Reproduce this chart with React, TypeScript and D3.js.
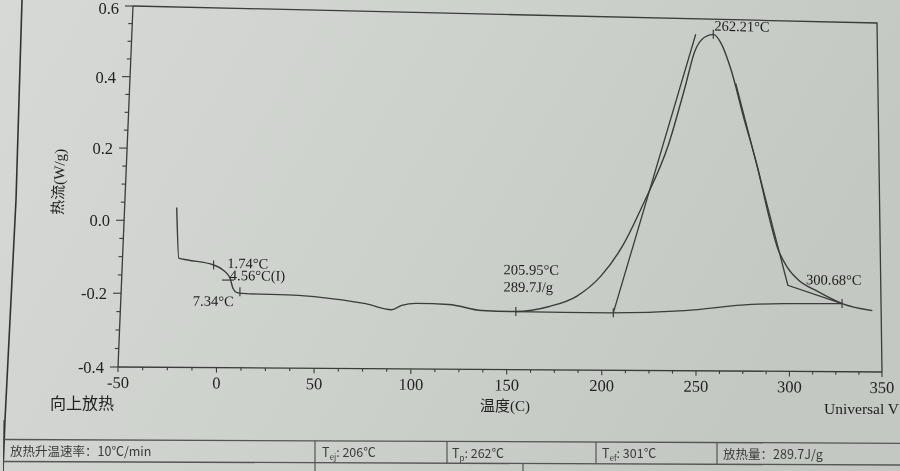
import React from "react";
import * as d3 from "d3";

const W = 900;
const H = 471;

// ---- axes ----
const xTickValues = [-50, 0, 50, 100, 150, 200, 250, 300, 350];
const xTickLabels = ["-50", "0", "50", "100", "150", "200", "250", "300", "350"];
const yTickValues = [0.6, 0.4, 0.2, 0.0, -0.2, -0.4];
const yTickLabels = ["0.6", "0.4", "0.2", "0.0", "-0.2", "-0.4"];

// ---- DSC curve (temperature °C, heat flow W/g) ----
const tempC = [
  -23.3, -21.3, -16.6, -3.3, 1.8, 5.4, 7.1, 9.2, 12.2, 40.9, 57.9, 75.8, 89.4, 94.6,
  101.9, 119.2, 136.5, 154.4, 172.0, 186.4, 199.2, 211.0, 222.0, 235.0, 244.0, 249.5,
  254.8, 259.6, 263.8, 269.1, 276.1, 283.5, 288.8, 294.1, 299.5, 304.8, 315.4, 328.8, 345.2,
];
const heatFlow = [
  0.037, -0.102, -0.107, -0.12, -0.134, -0.156, -0.184, -0.195, -0.197, -0.201, -0.209,
  -0.222, -0.238, -0.226, -0.22, -0.222, -0.238, -0.24, -0.225, -0.196, -0.139, -0.051,
  0.069, 0.232, 0.398, 0.506, 0.547, 0.556, 0.531, 0.457, 0.316, 0.174, 0.051, -0.054,
  -0.11, -0.142, -0.175, -0.209, -0.228,
];

// integration baseline
const baseT = [154.4, 180.0, 205.0, 244.0, 279.8, 297.6, 328.8];
const baseHF = [-0.24, -0.241, -0.241, -0.233, -0.214, -0.211, -0.209];

// onset tangent and endset construction
const onsetT = [205.95, 250.0];
const onsetHF = [-0.241, 0.555];
const endsetT = [271.8, 299.5, 328.8];
const endsetHF = [0.415, -0.159, -0.209];

// analysis markers
const vMarkT = [-3.3, 10.7, 154.4, 205.95, 259.6, 328.8];
const vMarkHF = [-0.12, -0.193, -0.24, -0.241, 0.556, -0.209];
const hMarkT = [4.4];
const hMarkHF = [-0.161];

// annotation texts with their data anchors
const annoText = ["262.21°C", "1.74°C", "4.56°C(I)", "7.34°C", "205.95°C", "289.7J/g", "300.68°C"];
const annoT = [260.1, 3.8, 5.3, -13.2, 147.7, 147.8, 309.4];
const annoHF = [0.567, -0.128, -0.161, -0.232, -0.137, -0.185, -0.156];

// table
const tableLabels = ["放热升温速率：10℃/min", "T", "T", "T", "放热量：289.7J/g"];
const tableSubs = ["", "ej", "p", "ef", ""];
const tableValues = ["", ": 206℃", ": 262℃", ": 301℃", ""];

function makeHomography(
  p0: number[], p1: number[], p2: number[], p3: number[]
) {
  const [x0, y0] = p0, [x1, y1] = p1, [x2, y2] = p2, [x3, y3] = p3;
  const dx1 = x1 - x2, dx2 = x3 - x2, dx3 = x0 - x1 + x2 - x3;
  const dy1 = y1 - y2, dy2 = y3 - y2, dy3 = y0 - y1 + y2 - y3;
  const den = dx1 * dy2 - dx2 * dy1;
  const g = (dx3 * dy2 - dx2 * dy3) / den;
  const h = (dx1 * dy3 - dx3 * dy1) / den;
  const a = x1 - x0 + g * x1, b = x3 - x0 + h * x3, c = x0;
  const d = y1 - y0 + g * y1, e = y3 - y0 + h * y3, f = y0;
  return (u: number, v: number): [number, number] => {
    const w = g * u + h * v + 1;
    return [(a * u + b * v + c) / w, (d * u + e * v + f) / w];
  };
}

export default function App() {
  const xs = d3.scaleLinear().domain([-50, 350]).range([0, 1]);
  const ys = d3.scaleLinear().domain([0.6, -0.4]).range([0, 1]);
  const proj = makeHomography([133, 6], [877, 23], [882, 372], [118, 367]);
  const P = (t: number, hf: number) => proj(xs(t), ys(hf));
  const angle = (t: number, hf: number) => {
    const p = P(t, hf), q = P(t + 5, hf);
    return (Math.atan2(q[1] - p[1], q[0] - p[0]) * 180) / Math.PI;
  };

  const lineGen = d3.line<[number, number]>().curve(d3.curveMonotoneX);
  const straight = d3.line<[number, number]>();

  const curvePts = tempC.map((t, i) => P(t, heatFlow[i]));
  const basePts = baseT.map((t, i) => P(t, baseHF[i]));
  const basePath = d3.line<[number, number]>().curve(d3.curveMonotoneX)(basePts);
  const onsetPts = onsetT.map((t, i) => P(t, onsetHF[i]));
  const endsetPts = endsetT.map((t, i) => P(t, endsetHF[i]));

  const frame = [P(-50, 0.6), P(350, 0.6), P(350, -0.4)];
  const xAxis = [P(-50, -0.4), P(350, -0.4)];
  const yAxis = [P(-50, -0.4), P(-50, 0.6)];

  const xMinor = d3.range(-50, 350.01, 12.5);
  const yMinor = d3.range(-0.4, 0.6001, 0.05);

  const stroke = "#3a3c3a";
  const serif = "'Liberation Serif', 'Times New Roman', serif";
  const cjk = "'Noto Sans CJK SC', 'Noto Sans', sans-serif";

  const tableCellX = [10, 322, 452, 602, 723];

  return (
    <svg width={W} height={H} style={{ position: "absolute", left: 0, top: 0, display: "block" }}>
      <defs>
        <linearGradient id="paper" x1="0" y1="0" x2="1" y2="0.3">
          <stop offset="0" stopColor="#d6d9d5" />
          <stop offset="0.55" stopColor="#cdd1cc" />
          <stop offset="1" stopColor="#c3c8c2" />
        </linearGradient>
        <filter id="soft" x="0" y="0" width="1" height="1">
          <feGaussianBlur stdDeviation="0.35" />
        </filter>
      </defs>
      <rect x={0} y={0} width={W} height={H} fill="url(#paper)" />
      <g filter="url(#soft)">
        {/* paper edge */}
        <polyline points="22,0 16,200 5,420 3,471" fill="none" stroke="#333" strokeWidth={1.6} />

        {/* frame */}
        <path d={straight(frame as [number, number][]) || ""} fill="none" stroke={stroke} strokeWidth={1.3} />
        <path d={straight(xAxis as [number, number][]) || ""} fill="none" stroke={stroke} strokeWidth={1.3} />
        <path d={straight(yAxis as [number, number][]) || ""} fill="none" stroke={stroke} strokeWidth={1.3} />

        {/* x ticks */}
        {xMinor.map((t, i) => {
          const p = P(t, -0.4);
          const major = xTickValues.includes(t);
          return (
            <line key={"xm" + i} x1={p[0]} y1={p[1]} x2={p[0]} y2={p[1] + (major ? 5 : 3)} stroke={stroke} strokeWidth={1.1} />
          );
        })}
        {xTickValues.map((t, i) => {
          const p = P(t, -0.4);
          return (
            <text key={"xl" + i} x={p[0]} y={p[1] + 21} textAnchor="middle" fontFamily={serif} fontSize={16.5} fill="#222"
              transform={`rotate(${angle(t, -0.4)},${p[0]},${p[1] + 16})`}>
              {xTickLabels[i]}
            </text>
          );
        })}

        {/* y ticks */}
        {yMinor.map((v, i) => {
          const p = P(-50, v);
          const major = yTickValues.some((y) => Math.abs(y - v) < 1e-6);
          return (
            <line key={"ym" + i} x1={p[0]} y1={p[1]} x2={p[0] - (major ? 8 : 4)} y2={p[1]} stroke={stroke} strokeWidth={1.1} />
          );
        })}
        {yTickValues.map((v, i) => {
          const p = P(-50, v);
          return (
            <text key={"yl" + i} x={p[0] - 14} y={Math.max(p[1] + 6, 14)} textAnchor="end" fontFamily={serif} fontSize={16.5} fill="#222">
              {yTickLabels[i]}
            </text>
          );
        })}

        {/* axis titles */}
        <text x={0} y={0} transform="translate(64,182) rotate(-88)" textAnchor="middle" fontFamily={`${serif}`} fontSize={15} fill="#222">
          <tspan fontFamily={cjk}>热流</tspan>(W/g)
        </text>
        <text x={50} y={409} fontFamily={cjk} fontSize={16} fill="#222">向上放热</text>
        <text x={480} y={411} fontFamily={cjk} fontSize={15} fill="#222">
          温度<tspan fontFamily={serif}>(C)</tspan>
        </text>
        <text x={824} y={414} fontFamily={serif} fontSize={15.5} fill="#222">Universal V</text>

        {/* curves */}
        <path d={basePath || ""} fill="none" stroke={stroke} strokeWidth={1.3} />
        <path d={lineGen(curvePts) || ""} fill="none" stroke={stroke} strokeWidth={1.4} />
        <path d={straight(onsetPts) || ""} fill="none" stroke={stroke} strokeWidth={1.3} />
        <path d={straight(endsetPts) || ""} fill="none" stroke={stroke} strokeWidth={1.3} />

        {/* markers */}
        {vMarkT.map((t, i) => {
          const p = P(t, vMarkHF[i]);
          return <line key={"vm" + i} x1={p[0]} y1={p[1] - 4.5} x2={p[0]} y2={p[1] + 4.5} stroke={stroke} strokeWidth={1.2} />;
        })}
        {hMarkT.map((t, i) => {
          const p = P(t, hMarkHF[i]);
          return <line key={"hm" + i} x1={p[0] - 6} y1={p[1]} x2={p[0] + 6} y2={p[1]} stroke={stroke} strokeWidth={1.2} />;
        })}

        {/* annotations */}
        {annoText.map((s, i) => {
          const p = P(annoT[i], annoHF[i]);
          return (
            <text key={"an" + i} x={p[0]} y={p[1]} fontFamily={serif} fontSize={14.5} fill="#1e1e1e"
              transform={`rotate(${angle(annoT[i], annoHF[i])},${p[0]},${p[1]})`}>
              {s}
            </text>
          );
        })}

        {/* table */}
        <line x1={3} y1={439.5} x2={900} y2={443.3} stroke="#555" strokeWidth={1.3} />
        <line x1={3} y1={461.5} x2={900} y2={465} stroke="#555" strokeWidth={1.3} />
        <line x1={3} y1={420} x2={3} y2={471} stroke="#444" strokeWidth={1.3} />
        {[315, 447, 596, 717].map((x, i) => (
          <line key={"td" + i} x1={x} y1={439.5 + x * 0.0042} x2={x} y2={461.5 + x * 0.0039} stroke="#555" strokeWidth={1.2} />
        ))}
        {[315, 523].map((x, i) => (
          <line key={"td2" + i} x1={x} y1={461.5 + x * 0.0039} x2={x} y2={471} stroke="#555" strokeWidth={1.2} />
        ))}
        {tableLabels.map((s, i) => (
          <text key={"tb" + i} x={tableCellX[i]} y={456 + tableCellX[i] * 0.0035} fontFamily={cjk} fontSize={12.5} fill="#3a3a3a">
            {s}
            {tableSubs[i] ? <tspan fontSize={8} dy={3}>{tableSubs[i]}</tspan> : null}
            {tableValues[i] ? <tspan dy={-3}>{tableValues[i]}</tspan> : null}
          </text>
        ))}
      </g>
    </svg>
  );
}
